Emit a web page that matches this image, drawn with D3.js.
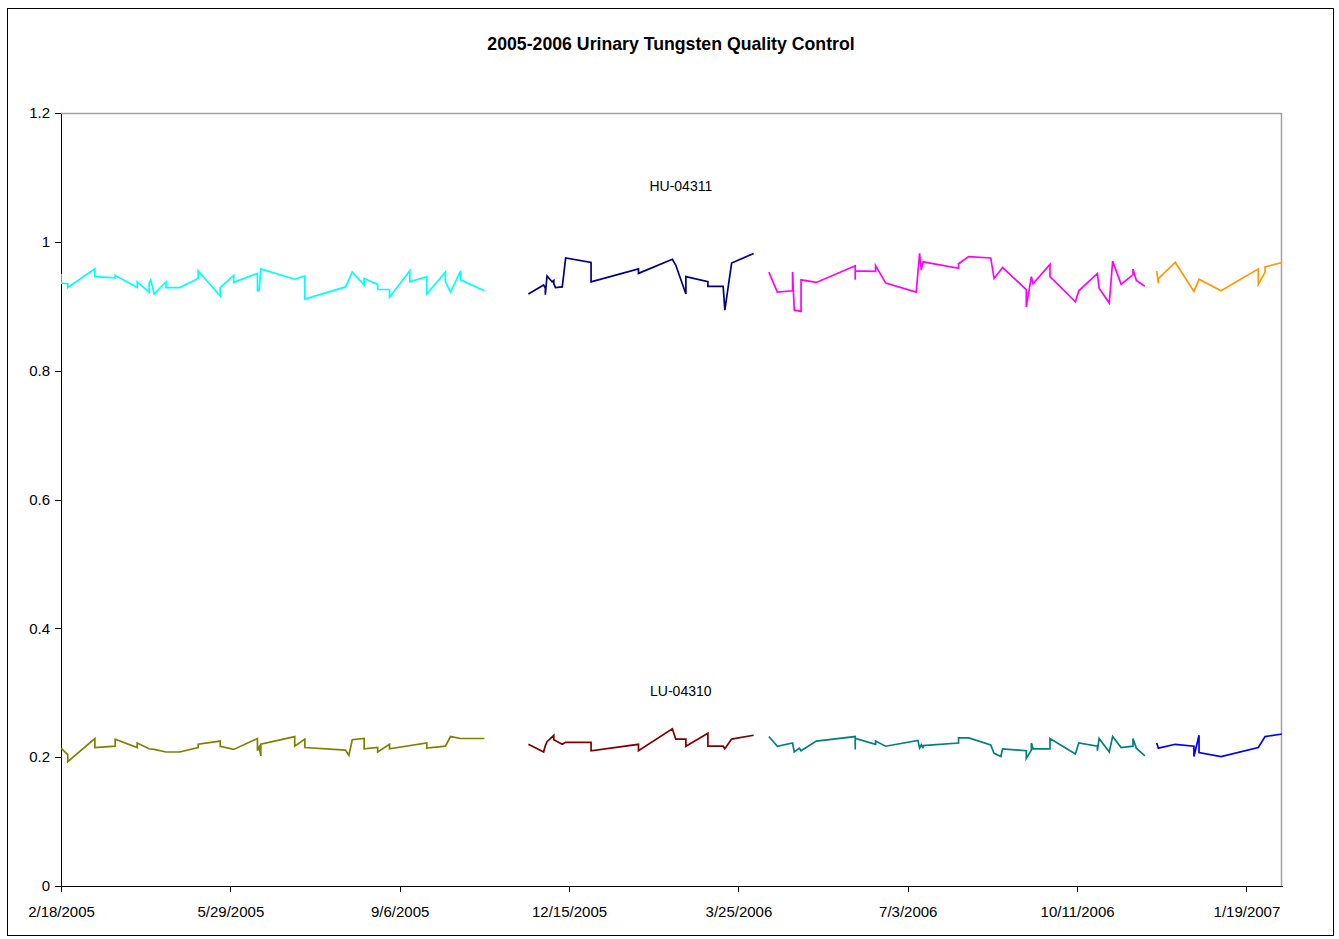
<!DOCTYPE html>
<html>
<head>
<meta charset="utf-8">
<script src="https://cdn.jsdelivr.net/npm/d3@7"></script>
<style>
  body { margin: 0; background: #fff; }
  svg { font-family: "Liberation Sans", Arial, sans-serif; }
  .axis path, .axis line { stroke: #000; shape-rendering: crispEdges; }
  .axis text { font-size: 15px; fill: #000; }
  .line { fill: none; stroke-width: 1.7; stroke-linejoin: miter; }
</style>
</head>
<body>
<script>
// chart text
const title = "2005-2006 Urinary Tungsten Quality Control";
const highLabel = "HU-04311";
const lowLabel = "LU-04310";

// axis ticks
const xTickDates = ["2005-02-18", "2005-05-29", "2005-09-06", "2005-12-15", "2006-03-25", "2006-07-03", "2006-10-11", "2007-01-19"];
const yTicks = [0, 0.2, 0.4, 0.6, 0.8, 1, 1.2];
const xDomain = ["2005-02-18", "2007-02-09"];

// HU-04311 lots
const hu2005 = [["2005-02-18",0.950],["2005-02-18",0.936],["2005-02-22",0.935],["2005-02-22",0.929],["2005-03-10",0.958],["2005-03-10",0.946],["2005-03-22",0.944],["2005-03-22",0.948],["2005-04-04",0.929],["2005-04-04",0.938],["2005-04-11",0.922],["2005-04-11",0.936],["2005-04-12",0.941],["2005-04-14",0.919],["2005-04-21",0.938],["2005-04-21",0.929],["2005-04-29",0.929],["2005-05-10",0.943],["2005-05-10",0.955],["2005-05-23",0.916],["2005-05-23",0.929],["2005-05-31",0.948],["2005-05-31",0.937],["2005-06-14",0.951],["2005-06-14",0.924],["2005-06-15",0.925],["2005-06-16",0.958],["2005-07-06",0.942],["2005-07-12",0.947],["2005-07-12",0.911],["2005-08-05",0.930],["2005-08-09",0.953],["2005-08-16",0.933],["2005-08-16",0.943],["2005-08-24",0.934],["2005-08-24",0.926],["2005-08-31",0.926],["2005-08-31",0.914],["2005-09-12",0.955],["2005-09-12",0.938],["2005-09-22",0.946],["2005-09-22",0.919],["2005-10-03",0.953],["2005-10-03",0.938],["2005-10-06",0.922],["2005-10-12",0.955],["2005-10-12",0.941],["2005-10-26",0.924]];
const hu2006a = [["2005-11-21",0.919],["2005-11-30",0.933],["2005-12-01",0.928],["2005-12-01",0.918],["2005-12-02",0.947],["2005-12-05",0.938],["2005-12-06",0.940],["2005-12-06",0.935],["2005-12-07",0.929],["2005-12-11",0.930],["2005-12-13",0.975],["2005-12-28",0.968],["2005-12-28",0.938],["2006-01-25",0.958],["2006-01-25",0.951],["2006-02-14",0.973],["2006-02-16",0.964],["2006-02-22",0.919],["2006-02-22",0.946],["2006-03-07",0.938],["2006-03-07",0.931],["2006-03-16",0.931],["2006-03-17",0.894],["2006-03-21",0.967],["2006-04-03",0.982]];
const hu2006b = [["2006-04-12",0.953],["2006-04-17",0.922],["2006-04-26",0.924],["2006-04-26",0.953],["2006-04-27",0.894],["2006-05-01",0.892],["2006-05-01",0.941],["2006-05-10",0.937],["2006-06-02",0.963],["2006-06-02",0.941],["2006-06-02",0.955],["2006-06-14",0.954],["2006-06-14",0.963],["2006-06-20",0.936],["2006-07-08",0.922],["2006-07-10",0.982],["2006-07-11",0.956],["2006-07-12",0.969],["2006-08-02",0.959],["2006-08-02",0.966],["2006-08-08",0.977],["2006-08-21",0.975],["2006-08-23",0.943],["2006-08-28",0.960],["2006-09-11",0.926],["2006-09-11",0.899],["2006-09-14",0.946],["2006-09-15",0.935],["2006-09-25",0.965],["2006-09-25",0.946],["2006-10-10",0.907],["2006-10-12",0.924],["2006-10-23",0.951],["2006-10-24",0.928],["2006-10-30",0.905],["2006-11-01",0.970],["2006-11-06",0.934],["2006-11-13",0.949],["2006-11-13",0.958],["2006-11-15",0.940],["2006-11-20",0.931]];
const hu2007 = [["2006-11-27",0.955],["2006-11-28",0.936],["2006-11-28",0.943],["2006-12-08",0.968],["2006-12-19",0.923],["2006-12-22",0.942],["2007-01-04",0.924],["2007-01-26",0.958],["2007-01-26",0.934],["2007-01-30",0.953],["2007-01-30",0.961],["2007-02-09",0.968]];

// LU-04310 lots
const lu2005 = [["2005-02-18",0.214],["2005-02-22",0.204],["2005-02-22",0.193],["2005-03-10",0.229],["2005-03-10",0.215],["2005-03-22",0.217],["2005-03-22",0.228],["2005-04-04",0.215],["2005-04-04",0.222],["2005-04-11",0.213],["2005-04-14",0.212],["2005-04-21",0.208],["2005-04-29",0.208],["2005-05-10",0.215],["2005-05-10",0.220],["2005-05-23",0.225],["2005-05-23",0.217],["2005-05-31",0.212],["2005-06-14",0.229],["2005-06-14",0.210],["2005-06-15",0.216],["2005-06-16",0.202],["2005-06-16",0.220],["2005-07-06",0.232],["2005-07-06",0.217],["2005-07-12",0.228],["2005-07-12",0.215],["2005-08-05",0.211],["2005-08-07",0.203],["2005-08-09",0.227],["2005-08-16",0.229],["2005-08-16",0.213],["2005-08-24",0.215],["2005-08-24",0.208],["2005-08-31",0.220],["2005-08-31",0.213],["2005-09-22",0.222],["2005-09-22",0.214],["2005-10-03",0.217],["2005-10-06",0.232],["2005-10-12",0.229],["2005-10-26",0.229]];
const lu2006a = [["2005-11-21",0.220],["2005-11-30",0.208],["2005-12-01",0.218],["2005-12-02",0.224],["2005-12-06",0.234],["2005-12-06",0.227],["2005-12-11",0.220],["2005-12-13",0.223],["2005-12-28",0.223],["2005-12-28",0.210],["2006-01-25",0.220],["2006-01-25",0.210],["2006-02-14",0.244],["2006-02-16",0.228],["2006-02-22",0.228],["2006-02-22",0.217],["2006-03-07",0.237],["2006-03-07",0.217],["2006-03-16",0.217],["2006-03-17",0.213],["2006-03-21",0.228],["2006-04-03",0.234]];
const lu2006b = [["2006-04-12",0.232],["2006-04-17",0.217],["2006-04-26",0.222],["2006-04-27",0.208],["2006-04-30",0.214],["2006-05-01",0.210],["2006-05-10",0.225],["2006-06-02",0.232],["2006-06-02",0.212],["2006-06-02",0.229],["2006-06-14",0.220],["2006-06-14",0.225],["2006-06-20",0.217],["2006-07-09",0.226],["2006-07-10",0.214],["2006-07-11",0.219],["2006-07-12",0.214],["2006-07-12",0.218],["2006-08-02",0.222],["2006-08-02",0.230],["2006-08-08",0.230],["2006-08-21",0.219],["2006-08-23",0.206],["2006-08-27",0.201],["2006-08-28",0.213],["2006-09-11",0.210],["2006-09-11",0.198],["2006-09-14",0.211],["2006-09-14",0.222],["2006-09-15",0.213],["2006-09-25",0.213],["2006-09-25",0.229],["2006-10-10",0.205],["2006-10-12",0.222],["2006-10-23",0.217],["2006-10-23",0.210],["2006-10-24",0.229],["2006-10-30",0.208],["2006-11-01",0.232],["2006-11-06",0.215],["2006-11-13",0.217],["2006-11-13",0.229],["2006-11-15",0.214],["2006-11-20",0.202]];
const lu2007 = [["2006-11-27",0.222],["2006-11-28",0.214],["2006-12-08",0.220],["2006-12-19",0.217],["2006-12-19",0.201],["2006-12-22",0.234],["2006-12-22",0.207],["2007-01-04",0.201],["2007-01-26",0.215],["2007-01-30",0.232],["2007-02-09",0.236]];

const seriesList = [
  {data: hu2005, color: "#00ffff"},
  {data: hu2006a, color: "#000080"},
  {data: hu2006b, color: "#ff00ff"},
  {data: hu2007, color: "#ff9900"},
  {data: lu2005, color: "#808000"},
  {data: lu2006a, color: "#800000"},
  {data: lu2006b, color: "#008080"},
  {data: lu2007, color: "#0000ff"}
];

const W = 1339, H = 939;
const margin = {top: 113, right: 57, bottom: 53, left: 61}
  , width = W - margin.left - margin.right
  , height = H - margin.top - margin.bottom;

const parse = d3.timeParse("%Y-%m-%d");
const fmt = d3.timeFormat("%-m/%-d/%Y");

const svg = d3.select("body").append("svg")
  .attr("width", W)
  .attr("height", H);

// outer chart border
svg.append("rect")
  .attr("x", 7.5).attr("y", 8.5)
  .attr("width", 1326).attr("height", 927)
  .attr("fill", "none").attr("stroke", "#000").attr("stroke-width", 1);

svg.append("text")
  .attr("x", 671).attr("y", 50)
  .attr("text-anchor", "middle")
  .style("font-size", "17.7px").style("font-weight", "bold")
  .text(title);

const g = svg.append("g")
  .attr("transform", "translate(" + margin.left + "," + margin.top + ")");

const xScale = d3.scaleTime()
  .domain(xDomain.map(parse))
  .range([0, width]);

const yScale = d3.scaleLinear()
  .domain([0, 1.2])
  .range([height, 0]);

// gray frame on top and right
g.append("path")
  .attr("d", "M0,0.5H" + (width - 0.5) + "V" + height)
  .attr("fill", "none").attr("stroke", "#a0a0a0").attr("stroke-width", 1.5);

const xAxis = d3.axisBottom(xScale)
  .tickValues(xTickDates.map(parse))
  .tickFormat(fmt)
  .tickSize(6).tickSizeOuter(0).tickPadding(14);
const yAxis = d3.axisLeft(yScale)
  .tickValues(yTicks)
  .tickFormat(d3.format("~g"))
  .tickSize(6).tickSizeOuter(0).tickPadding(5);

g.append("g")
  .attr("class", "x axis")
  .attr("transform", "translate(0," + height + ")")
  .call(xAxis);

g.append("g")
  .attr("class", "y axis")
  .call(yAxis);

g.append("defs").append("clipPath")
  .attr("id", "clip")
  .append("rect")
  .attr("x", 0).attr("y", 0)
  .attr("width", width).attr("height", height);

const line = d3.line()
  .x(d => xScale(parse(d[0])))
  .y(d => yScale(d[1]));

const charts = g.append("g").attr("clip-path", "url(#clip)");
seriesList.forEach(s => {
  charts.append("path")
    .datum(s.data)
    .attr("class", "line")
    .attr("stroke", s.color)
    .attr("d", line);
});

// series labels
g.append("text")
  .attr("x", xScale(parse("2006-02-19"))).attr("y", yScale(1.087))
  .attr("text-anchor", "middle").attr("dy", "0.35em")
  .style("font-size", "14px")
  .text(highLabel);
g.append("text")
  .attr("x", xScale(parse("2006-02-19"))).attr("y", yScale(0.303))
  .attr("text-anchor", "middle").attr("dy", "0.35em")
  .style("font-size", "14px")
  .text(lowLabel);
</script>
</body>
</html>
